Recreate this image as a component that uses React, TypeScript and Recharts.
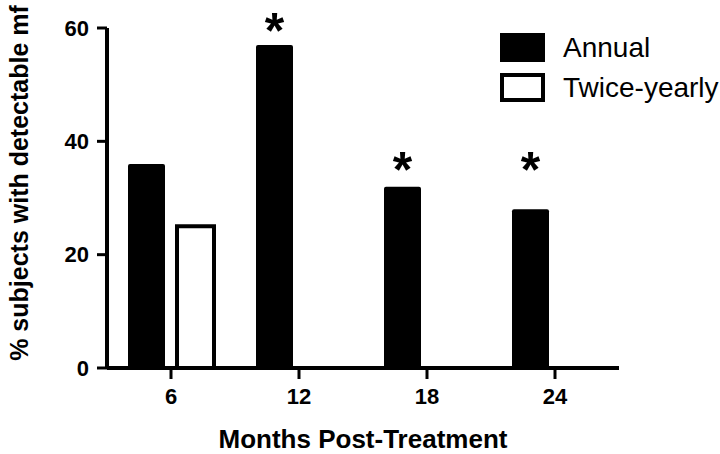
import { BarChart, Bar, XAxis, YAxis, Legend, LabelList, Label } from "recharts";

const months = ["6", "12", "18", "24"];
const annual = [36, 57, 32, 28];
const twiceYearly: (number | null)[] = [25, null, null, null];
// height (in % units) of the significance asterisk over each annual bar
const asteriskLevel: (number | null)[] = [null, 61.3, 36.7, 36.7];
const yTicks = [0, 20, 40, 60];

const data = months.map((m, i) => ({
  month: m,
  annual: annual[i],
  twiceYearly: twiceYearly[i],
}));

const FONT = '"Liberation Sans", Arial, Helvetica, sans-serif';

function Asterisk(props: any) {
  const box = props.viewBox ?? props;
  const { x, y, width, height } = box;
  const level = asteriskLevel[props.index];
  const value = Number(props.value);
  if (level == null || !value) return null;
  // bar geometry gives the px-per-unit of the y scale
  const perUnit = height / value;
  const cy = y + height - level * perUnit;
  return (
    <text
      x={x + width / 2}
      y={cy}
      dy={27}
      textAnchor="middle"
      fontSize={50}
      fontWeight="bold"
      fontFamily={FONT}
      fill="#000"
    >
      *
    </text>
  );
}

function YTitle(props: any) {
  const vb = props.viewBox;
  const cx = 28;
  const cy = vb.y + vb.height / 2 - 15;
  return (
    <text
      x={cx}
      y={cy}
      transform={`rotate(-90, ${cx}, ${cy})`}
      textAnchor="middle"
      fontSize={25}
      fontWeight="bold"
      fontFamily={FONT}
      fill="#000"
    >
      % subjects with detectable mf
    </text>
  );
}

function LegendBoxes({ payload }: any) {
  return (
    <div style={{ fontFamily: FONT }}>
      {(payload ?? []).map((entry: any, i: number) => {
        const p = entry.payload ?? {};
        const fill = p.fill ?? entry.color;
        const stroke = p.stroke ?? fill;
        return (
          <div
            key={i}
            style={{
              display: "flex",
              alignItems: "center",
              height: 29,
              marginBottom: 11,
            }}
          >
            <div
              style={{
                width: 45,
                height: 29,
                boxSizing: "border-box",
                background: fill,
                border: `4px solid ${stroke}`,
              }}
            />
            <span
              style={{
                marginLeft: 18,
                fontSize: 28,
                lineHeight: 1,
                color: "#000",
                whiteSpace: "nowrap",
              }}
            >
              {entry.value}
            </span>
          </div>
        );
      })}
    </div>
  );
}

export default function App() {
  return (
    <div
      style={{
        position: "absolute",
        left: 0,
        top: 0,
        width: 720,
        height: 454,
        background: "#fff",
        fontFamily: FONT,
      }}
    >
      <BarChart
        width={720}
        height={454}
        data={data}
        margin={{ top: 28, right: 101, bottom: 0, left: 0 }}
        barCategoryGap={21}
        barGap={12}
      >
        <XAxis
          dataKey="month"
          height={86}
          axisLine={{ stroke: "#000", strokeWidth: 4 }}
          tickLine={{ stroke: "#000", strokeWidth: 3 }}
          tickSize={11}
          tickMargin={9}
          tick={{ fill: "#000", fontSize: 22, fontWeight: "bold", fontFamily: FONT }}
        >
          <Label
            value="Months Post-Treatment"
            position="insideBottom"
            offset={6}
            fill="#000"
            fontSize={26}
            fontWeight="bold"
            fontFamily={FONT}
          />
        </XAxis>
        <YAxis
          width={107}
          domain={[0, 60]}
          ticks={yTicks}
          axisLine={{ stroke: "#000", strokeWidth: 4 }}
          tickLine={{ stroke: "#000", strokeWidth: 3 }}
          tickSize={10}
          tickMargin={8}
          tick={{ fill: "#000", fontSize: 22, fontWeight: "bold", fontFamily: FONT }}
        >
          <Label content={YTitle} />
        </YAxis>
        <Legend
          layout="vertical"
          align="center"
          verticalAlign="middle"
          wrapperStyle={{ top: 33, left: 500, width: "auto" }}
          content={LegendBoxes}
        />
        <Bar
          dataKey="annual"
          name="Annual"
          fill="#000"
          radius={[2, 2, 0, 0]}
          isAnimationActive={false}
        >
          <LabelList dataKey="annual" content={Asterisk} />
        </Bar>
        <Bar
          dataKey="twiceYearly"
          name="Twice-yearly"
          fill="#fff"
          stroke="#000"
          strokeWidth={4}
          isAnimationActive={false}
        />
      </BarChart>
    </div>
  );
}
